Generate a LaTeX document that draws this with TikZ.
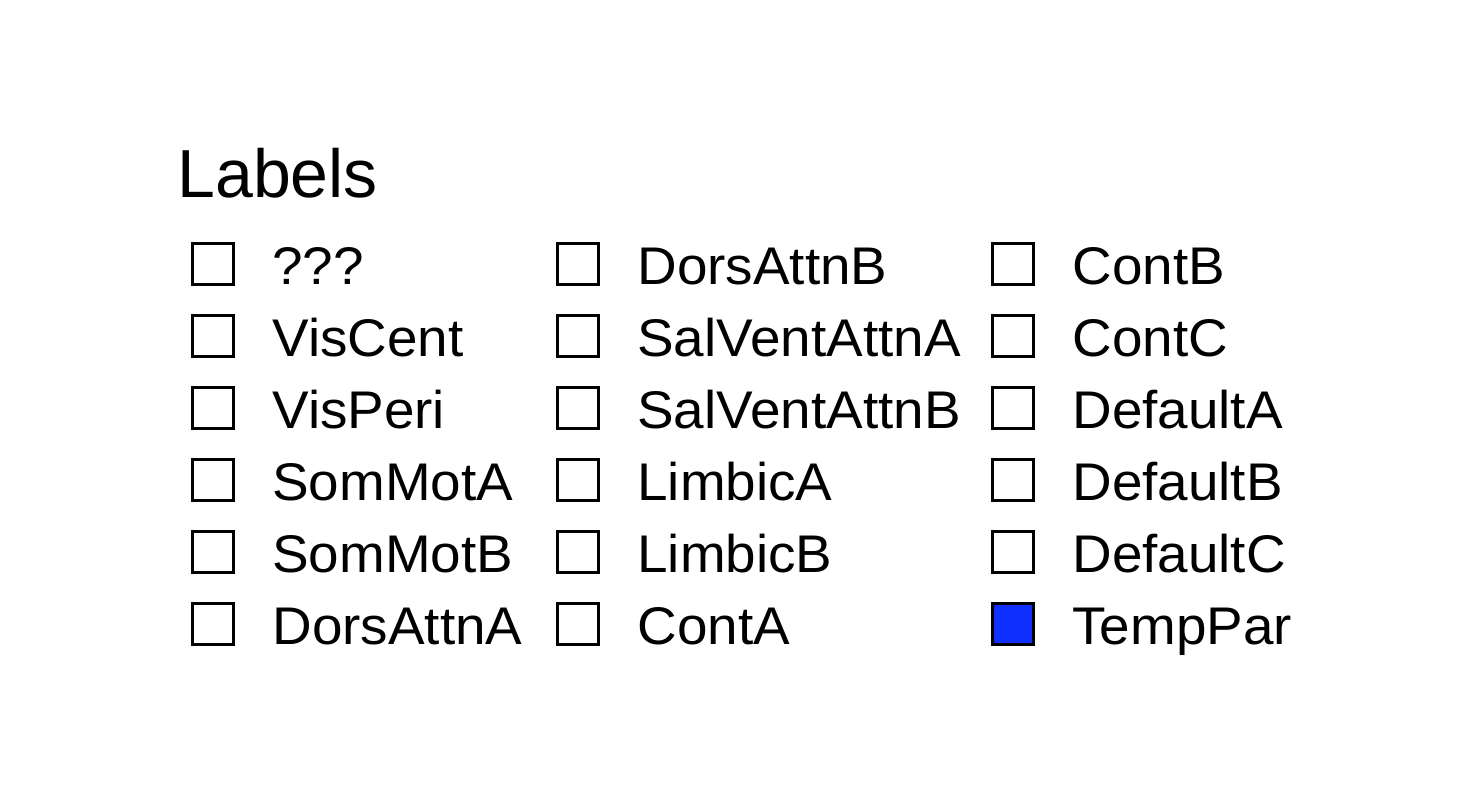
\documentclass[tikz,border=0pt]{standalone}
\usepackage{fontspec}
\setmainfont{Liberation Sans}
\newfontfamily\keyfont[FakeStretch=1.035]{Liberation Sans}
\definecolor{keyblue}{RGB}{16,48,255}
\begin{document}
\begin{tikzpicture}[x=0.5pt,y=-0.5pt,
  keybox/.style={draw=black,line width=1.25pt,minimum size=20.3pt,inner sep=0pt,fill=white},
  keytext/.style={anchor=base west,inner sep=0pt,font=\keyfont\fontsize{26.5pt}{30pt}\selectfont},
  titletext/.style={anchor=base west,inner sep=0pt,font=\fontsize{34pt}{40pt}\selectfont}]
\useasboundingbox (0,0) rectangle (1464,800);
\node[titletext] (title) at (177,197) {Labels};
% column 1
\foreach \i/\t in {0/???,1/VisCent,2/VisPeri,3/SomMotA,4/SomMotB,5/DorsAttnA}{
  \node[keybox] (b1\i) at (213,{264+72*\i}) {};
  \node[keytext] (t1\i) at (272,{284+72*\i}) {\t};
}
% column 2
\foreach \i/\t in {0/DorsAttnB,1/SalVentAttnA,2/SalVentAttnB,3/LimbicA,4/LimbicB,5/ContA}{
  \node[keybox] (b2\i) at (578,{264+72*\i}) {};
  \node[keytext] (t2\i) at (637,{284+72*\i}) {\t};
}
% column 3
\foreach \i/\t in {0/ContB,1/ContC,2/DefaultA,3/DefaultB,4/DefaultC}{
  \node[keybox] (b3\i) at (1013,{264+72*\i}) {};
  \node[keytext] (t3\i) at (1072,{284+72*\i}) {\t};
}
\node[keybox,fill=keyblue] (b35) at (1013,624) {};
\node[keytext] (t35) at (1072,644) {TempPar};
\end{tikzpicture}
\end{document}
